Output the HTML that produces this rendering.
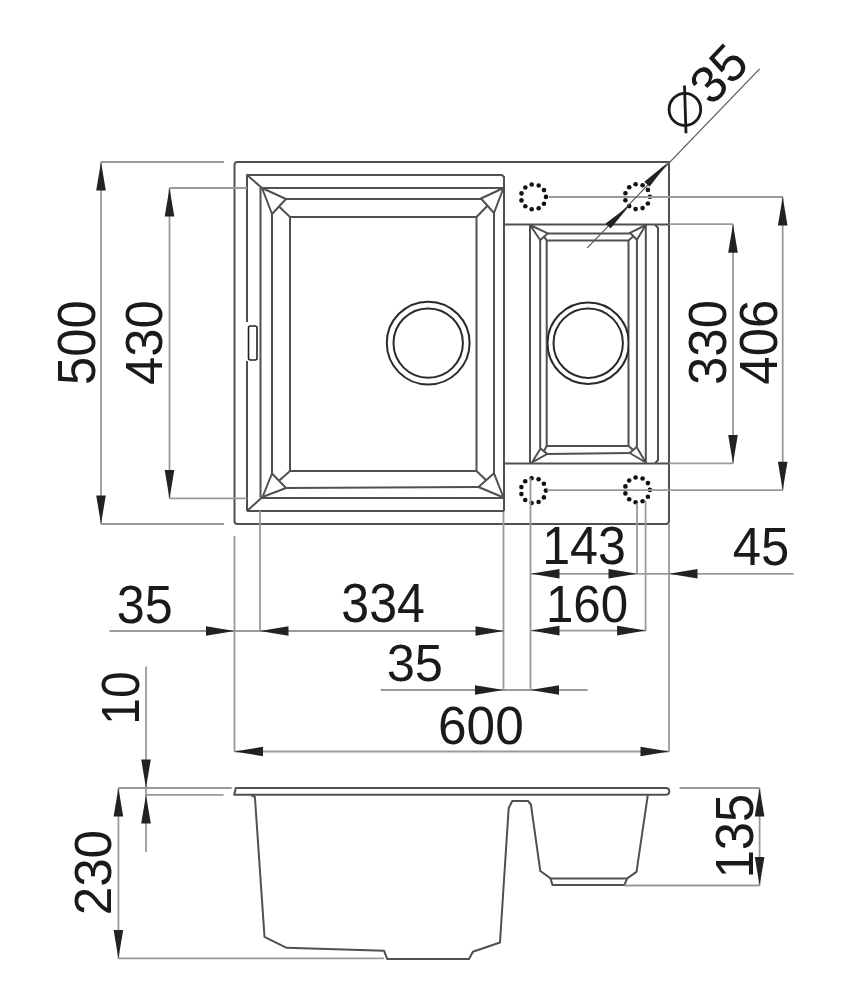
<!DOCTYPE html>
<html><head><meta charset="utf-8"><style>
html,body{margin:0;padding:0;background:#fff;}
svg{display:block;}
.o{fill:none;stroke:#505050;stroke-width:2;stroke-linejoin:round}
.c{fill:none;stroke:#2a2a2a;stroke-width:2}
.o2{fill:none;stroke:#222;stroke-width:1.6}
.d{fill:none;stroke:#999;stroke-width:1.8}
.d2{fill:none;stroke:#555;stroke-width:1.2}
.ar{fill:#222;stroke:none}
.dt{fill:#111;stroke:none}
.ph{fill:none;stroke:#1a1a1a;stroke-width:2.8}
text{font-family:"Liberation Sans",sans-serif;fill:#1a1a1a}
</style></head><body>
<svg width="856" height="1000" viewBox="0 0 856 1000">
<rect width="856" height="1000" fill="#fff"/>
<path d="M237.5,162 L669,162 L669,521 Q669,524 666,524 L237.5,524 Q234.5,524 234.5,521 L234.5,165 Q234.5,162 237.5,162 Z" class="o"/>
<polyline points="247,322 247,175 502,175 504,177 504,511" class="o"/>
<line x1="247" y1="361" x2="247" y2="511" class="o"/>
<line x1="503.5" y1="511" x2="503.5" y2="690" class="d"/>
<line x1="247" y1="511" x2="504" y2="511" class="o"/>
<line x1="247" y1="175" x2="262" y2="188" class="o"/>
<line x1="247" y1="511" x2="262.5" y2="497" class="o"/>
<polyline points="504,188 260.5,188 260.5,497" class="o"/>
<line x1="260" y1="511" x2="260" y2="631" class="d"/>
<line x1="260" y1="498" x2="504" y2="498" class="o"/>
<polyline points="286,199 481,199" class="o"/>
<polyline points="272,214 272,473.5" class="o"/>
<polyline points="494,213 494,473.3" class="o"/>
<polyline points="286,488 478.5,487" class="o"/>
<polygon points="262,188 286,199 272,214" class="o"/>
<polygon points="503.5,188 481,198.5 494,213" class="o"/>
<polygon points="262.5,497 272,473.5 286,488" class="o"/>
<polygon points="503.5,497.5 494,473.3 478.5,487" class="o"/>
<path d="M290,217 L476.5,217 L476.5,471 L290,471 Z" class="o"/>
<line x1="290" y1="217" x2="279" y2="206.5" class="o"/>
<line x1="476.5" y1="217" x2="487.5" y2="205.75" class="o"/>
<line x1="290" y1="471" x2="279" y2="480.75" class="o"/>
<line x1="476.5" y1="471" x2="486.25" y2="480.15" class="o"/>
<rect x="248.5" y="326" width="8.5" height="34" rx="2" class="o2"/>
<circle cx="428.2" cy="343.1" r="41.4" class="c"/>
<circle cx="428.2" cy="343.1" r="34.7" class="c"/>
<line x1="504" y1="224.5" x2="669" y2="224.5" class="o"/>
<line x1="504" y1="463.5" x2="669" y2="463.5" class="o"/>
<polyline points="655,224.5 658,228 658,460 655,463.5" class="o"/>
<line x1="530" y1="224.5" x2="530" y2="463.5" class="o"/>
<line x1="645.8" y1="224.5" x2="645.8" y2="463.5" class="o"/>
<line x1="540.2" y1="240" x2="540.2" y2="448.6" class="o"/>
<line x1="636.9" y1="239.8" x2="636.9" y2="447" class="o"/>
<line x1="547.7" y1="233.4" x2="630" y2="233.4" class="o"/>
<line x1="547.3" y1="453.9" x2="629.7" y2="453" class="o"/>
<path d="M546.7,240.4 L628.5,240.4 L628.5,446 L546.7,446 Z" class="o"/>
<line x1="546.7" y1="240.4" x2="544" y2="236.7" class="o"/>
<line x1="628.5" y1="240.4" x2="633.45" y2="236.3" class="o"/>
<line x1="546.7" y1="446" x2="543.9" y2="451.25" class="o"/>
<line x1="628.5" y1="446" x2="633.15" y2="450" class="o"/>
<polygon points="530,225 547.7,233.4 540.2,240" class="o"/>
<polygon points="645.8,225 630,232.8 636.9,239.8" class="o"/>
<polygon points="532,462.5 547.3,453.9 540.5,448.6" class="o"/>
<polygon points="645.8,462.5 629.7,453 636.6,447" class="o"/>
<clipPath id="rc"><rect x="547" y="290" width="82" height="110"/></clipPath>
<circle cx="588.2" cy="343.2" r="40.7" class="c" clip-path="url(#rc)"/>
<circle cx="588.2" cy="343.2" r="34.7" class="c"/>
<circle cx="546.0" cy="196.9" r="2.3" class="dt"/>
<circle cx="544.0" cy="203.7" r="2.3" class="dt"/>
<circle cx="538.7" cy="208.3" r="2.3" class="dt"/>
<circle cx="531.7" cy="209.3" r="2.3" class="dt"/>
<circle cx="525.3" cy="206.3" r="2.3" class="dt"/>
<circle cx="521.5" cy="200.4" r="2.3" class="dt"/>
<circle cx="521.5" cy="193.4" r="2.3" class="dt"/>
<circle cx="525.3" cy="187.5" r="2.3" class="dt"/>
<circle cx="531.7" cy="184.5" r="2.3" class="dt"/>
<circle cx="538.7" cy="185.5" r="2.3" class="dt"/>
<circle cx="544.0" cy="190.1" r="2.3" class="dt"/>
<circle cx="649.9" cy="196.7" r="2.3" class="dt"/>
<circle cx="647.9" cy="203.5" r="2.3" class="dt"/>
<circle cx="642.6" cy="208.1" r="2.3" class="dt"/>
<circle cx="635.6" cy="209.1" r="2.3" class="dt"/>
<circle cx="629.2" cy="206.1" r="2.3" class="dt"/>
<circle cx="625.4" cy="200.2" r="2.3" class="dt"/>
<circle cx="625.4" cy="193.2" r="2.3" class="dt"/>
<circle cx="629.2" cy="187.3" r="2.3" class="dt"/>
<circle cx="635.6" cy="184.3" r="2.3" class="dt"/>
<circle cx="642.6" cy="185.3" r="2.3" class="dt"/>
<circle cx="647.9" cy="189.9" r="2.3" class="dt"/>
<circle cx="545.9" cy="490.6" r="2.3" class="dt"/>
<circle cx="543.9" cy="497.4" r="2.3" class="dt"/>
<circle cx="538.6" cy="502.0" r="2.3" class="dt"/>
<circle cx="531.6" cy="503.0" r="2.3" class="dt"/>
<circle cx="525.2" cy="500.0" r="2.3" class="dt"/>
<circle cx="521.4" cy="494.1" r="2.3" class="dt"/>
<circle cx="521.4" cy="487.1" r="2.3" class="dt"/>
<circle cx="525.2" cy="481.2" r="2.3" class="dt"/>
<circle cx="531.6" cy="478.2" r="2.3" class="dt"/>
<circle cx="538.6" cy="479.2" r="2.3" class="dt"/>
<circle cx="543.9" cy="483.8" r="2.3" class="dt"/>
<circle cx="649.9" cy="489.9" r="2.3" class="dt"/>
<circle cx="647.9" cy="496.7" r="2.3" class="dt"/>
<circle cx="642.6" cy="501.3" r="2.3" class="dt"/>
<circle cx="635.6" cy="502.3" r="2.3" class="dt"/>
<circle cx="629.2" cy="499.3" r="2.3" class="dt"/>
<circle cx="625.4" cy="493.4" r="2.3" class="dt"/>
<circle cx="625.4" cy="486.4" r="2.3" class="dt"/>
<circle cx="629.2" cy="480.5" r="2.3" class="dt"/>
<circle cx="635.6" cy="477.5" r="2.3" class="dt"/>
<circle cx="642.6" cy="478.5" r="2.3" class="dt"/>
<circle cx="647.9" cy="483.1" r="2.3" class="dt"/>
<line x1="101" y1="162" x2="224" y2="162" class="d"/>
<line x1="101" y1="524" x2="224" y2="524" class="d"/>
<line x1="101" y1="162" x2="101" y2="524" class="d"/>
<polygon points="101.0,162.0 105.8,190.5 96.2,190.5" class="ar"/>
<polygon points="101.0,524.0 96.2,495.5 105.8,495.5" class="ar"/>
<line x1="169.5" y1="188" x2="247" y2="188" class="d"/>
<line x1="169.5" y1="498.4" x2="247" y2="498.4" class="d"/>
<line x1="169.5" y1="188" x2="169.5" y2="498.4" class="d"/>
<polygon points="169.5,188.0 174.3,216.5 164.7,216.5" class="ar"/>
<polygon points="169.5,498.4 164.7,469.9 174.3,469.9" class="ar"/>
<line x1="549" y1="197" x2="783" y2="197" class="d"/>
<line x1="547" y1="490.2" x2="783" y2="490.2" class="d"/>
<line x1="782.7" y1="197" x2="782.7" y2="490.2" class="d"/>
<polygon points="782.7,197.0 787.5,225.5 777.9,225.5" class="ar"/>
<polygon points="782.7,490.2 777.9,461.7 787.5,461.7" class="ar"/>
<line x1="669" y1="224.2" x2="733" y2="224.2" class="d"/>
<line x1="669" y1="463.4" x2="733" y2="463.4" class="d"/>
<line x1="733" y1="224.2" x2="733" y2="463.4" class="d"/>
<polygon points="733.0,224.2 737.8,252.7 728.2,252.7" class="ar"/>
<polygon points="733.0,463.4 728.2,434.9 737.8,434.9" class="ar"/>
<line x1="234.5" y1="536" x2="234.5" y2="752" class="d"/>
<line x1="530.5" y1="478" x2="530.5" y2="690" class="d"/>
<line x1="637" y1="503" x2="637" y2="574" class="d"/>
<line x1="645.6" y1="501" x2="645.6" y2="631" class="d"/>
<line x1="669" y1="524" x2="669" y2="752" class="d"/>
<line x1="531" y1="573.8" x2="793.6" y2="573.8" class="d"/>
<polygon points="531.0,573.8 559.5,569.0 559.5,578.6" class="ar"/>
<polygon points="637.0,573.8 608.5,578.6 608.5,569.0" class="ar"/>
<polygon points="669.0,573.8 697.5,569.0 697.5,578.6" class="ar"/>
<line x1="531" y1="630.6" x2="646" y2="630.6" class="d"/>
<polygon points="531.0,630.6 559.5,625.8 559.5,635.4" class="ar"/>
<polygon points="645.6,630.6 617.1,635.4 617.1,625.8" class="ar"/>
<line x1="109.5" y1="631" x2="504" y2="631" class="d"/>
<polygon points="234.5,631.0 206.0,635.8 206.0,626.2" class="ar"/>
<polygon points="260.0,631.0 288.5,626.2 288.5,635.8" class="ar"/>
<polygon points="504.0,631.0 475.5,635.8 475.5,626.2" class="ar"/>
<line x1="380.7" y1="690" x2="587.6" y2="690" class="d"/>
<polygon points="503.5,690.0 475.0,694.8 475.0,685.2" class="ar"/>
<polygon points="530.5,690.0 559.0,685.2 559.0,694.8" class="ar"/>
<line x1="234.5" y1="751.5" x2="669" y2="751.5" class="d"/>
<polygon points="234.5,751.5 263.0,746.7 263.0,756.3" class="ar"/>
<polygon points="669.0,751.5 640.5,756.3 640.5,746.7" class="ar"/>
<line x1="587.3" y1="247.8" x2="759.6" y2="68.9" class="d2"/>
<polygon points="668.5,162.0 649.5,186.7 644.3,181.7" class="ar"/>
<polygon points="629.8,205.2 610.6,228.6 605.6,223.4" class="ar"/>
<path d="M235.7,788.1 L665.5,788.1 Q669.3,788.1 669.3,791.4 Q669.3,794.7 665.5,794.7 L234.3,794.7 Z" class="o"/>
<polyline points="251.2,795 254.9,797 264.5,936.8 286.6,947.8 384,950.7 387.2,958.9 469,958.9 472.9,951.7 500,942.5 504,880 508.7,808 512.2,801 528,801 530.9,804.5 540.3,871 550.6,878.4 627.2,878.4 636.5,871.9 647.8,795.2" class="o"/>
<polyline points="550.6,878.4 552.4,885 624.4,885 627.2,878.4" class="o"/>
<line x1="118.4" y1="788" x2="231.7" y2="788" class="d"/>
<line x1="146" y1="794.9" x2="223.6" y2="794.9" class="d"/>
<line x1="118.4" y1="788" x2="118.4" y2="958.4" class="d"/>
<line x1="118.4" y1="958.4" x2="384" y2="958.4" class="d"/>
<polygon points="118.4,788.0 123.2,816.5 113.6,816.5" class="ar"/>
<polygon points="118.4,958.4 113.6,929.9 123.2,929.9" class="ar"/>
<line x1="146" y1="666.4" x2="146" y2="852" class="d"/>
<polygon points="146.0,788.0 141.2,759.5 150.8,759.5" class="ar"/>
<polygon points="146.0,795.0 150.8,823.5 141.2,823.5" class="ar"/>
<line x1="679.5" y1="788" x2="759.6" y2="788" class="d"/>
<line x1="624.4" y1="885.5" x2="759.6" y2="885.5" class="d"/>
<line x1="759.6" y1="788" x2="759.6" y2="885.5" class="d"/>
<polygon points="759.6,788.0 764.4,816.5 754.8,816.5" class="ar"/>
<polygon points="759.6,885.5 754.8,857.0 764.4,857.0" class="ar"/>
<text x="0" y="0" transform="translate(94.80,384.95) scale(1.0306,0.9759) rotate(-90)" font-size="52">500</text>
<text x="0" y="0" transform="translate(162.30,384.88) scale(1.0111,0.9750) rotate(-90)" font-size="52">430</text>
<text x="0" y="0" transform="translate(726.30,384.96) scale(1.0333,0.9795) rotate(-90)" font-size="52">330</text>
<text x="0" y="0" transform="translate(776.70,384.68) scale(1.0306,0.9795) rotate(-90)" font-size="52">406</text>
<text x="0" y="0" transform="translate(116.66,622.80) scale(0.9685,1.0333) rotate(0)" font-size="52">35</text>
<text x="0" y="0" transform="translate(341.27,622.30) scale(0.9639,1.0556) rotate(0)" font-size="52">334</text>
<text x="0" y="0" transform="translate(386.76,680.70) scale(0.9722,1.0056) rotate(0)" font-size="52">35</text>
<text x="0" y="0" transform="translate(542.13,564.20) scale(0.9662,1.0333) rotate(0)" font-size="52">143</text>
<text x="0" y="0" transform="translate(545.91,622.40) scale(0.9469,1.0056) rotate(0)" font-size="52">160</text>
<text x="0" y="0" transform="translate(732.82,565.00) scale(0.9782,1.0250) rotate(0)" font-size="52">45</text>
<text x="0" y="0" transform="translate(438.04,744.10) scale(0.9878,1.0389) rotate(0)" font-size="52">600</text>
<text x="0" y="0" transform="translate(139.20,724.69) scale(1.0222,0.9231) rotate(-90)" font-size="52">10</text>
<text x="0" y="0" transform="translate(111.20,915.36) scale(1.0056,0.9854) rotate(-90)" font-size="52">230</text>
<text x="0" y="0" transform="translate(752.90,878.29) scale(1.0333,0.9725) rotate(-90)" font-size="52">135</text>
<text x="0" y="0" transform="translate(711.40,107.01) scale(0.9852,1.0018) rotate(-46)" font-size="52">35</text>
<ellipse cx="684.9" cy="109.4" rx="15.8" ry="16.1" class="ph"/>
<line x1="684.5" y1="85.5" x2="686" y2="133.2" class="ph"/>
</svg></body></html>
